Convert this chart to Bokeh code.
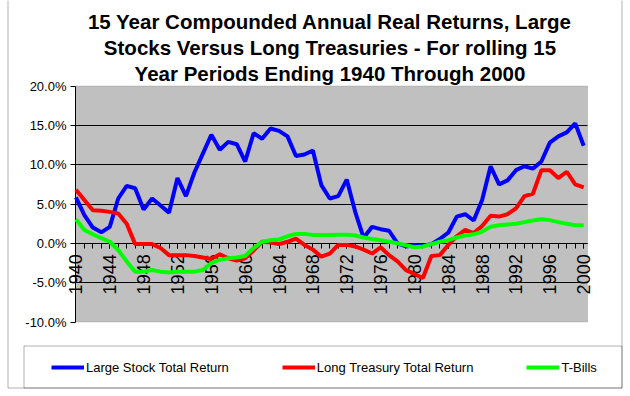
import math
from bokeh.plotting import figure
from bokeh.models import (Range1d, FixedTicker, Legend, LegendItem, BoxAnnotation,
                          PrintfTickFormatter, ColumnDataSource, Label)
from bokeh.embed import file_html
from bokeh.resources import INLINE

years = list(range(1940, 2001))
large_stock = [5.85, 3.6, 2.0, 1.4, 2.1, 5.7, 7.3, 7.0, 4.3, 5.7, 4.8, 3.9, 8.3,
               6.0, 9.0, 11.4, 13.8, 11.9, 12.9, 12.6, 10.4, 14.0, 13.3, 14.6, 14.3,
               13.6, 11.1, 11.3, 11.8, 7.4, 5.7, 6.0, 8.1, 4.0, 0.7, 2.1, 1.8,
               1.6, 0.0, -0.4, -0.25, -0.3, -0.1, 0.55, 1.35, 3.4, 3.7, 2.9, 5.5,
               9.8, 7.5, 8.0, 9.3, 9.8, 9.5, 10.4, 12.8, 13.6, 14.1, 15.25, 12.4]
long_treasury = [6.8, 5.5, 4.2, 4.15, 4.0, 3.8, 2.5, -0.1, -0.1, -0.1, -0.6, -1.5, -1.5,
                 -1.5, -1.6, -1.8, -2.0, -1.4, -1.9, -2.2, -1.9, -0.9, 0.2, 0.1, -0.1,
                 0.2, 0.6, -0.2, -0.8, -1.7, -1.3, -0.2, -0.2, -0.4, -0.8, -1.3, -0.5,
                 -1.5, -2.3, -3.4, -3.9, -4.4, -1.6, -1.5, -0.2, 0.9, 1.7, 1.3, 2.2,
                 3.5, 3.4, 3.7, 4.45, 6.0, 6.3, 9.3, 9.3, 8.3, 9.1, 7.5, 7.1]
t_bills = [3.05, 1.7, 1.15, 0.65, 0.2, -0.85, -2.3, -3.6, -3.6, -3.4, -3.6, -3.7, -3.6,
           -3.6, -3.6, -3.4, -2.5, -2.1, -1.9, -1.8, -1.6, -0.6, 0.2, 0.4, 0.5,
           0.9, 1.2, 1.2, 1.05, 1.05, 1.05, 1.1, 1.1, 1.0, 0.75, 0.55, 0.4,
           0.2, 0.0, -0.25, -0.5, -0.4, -0.1, 0.2, 0.4, 0.75, 1.0, 1.15, 1.5,
           2.1, 2.3, 2.4, 2.5, 2.7, 2.9, 3.05, 2.95, 2.7, 2.5, 2.3, 2.3]
series_names = ["Large Stock Total Return", "Long Treasury Total Return", "T-Bills"]
y_ticks = [-10, -5, 0, 5, 10, 15, 20]
grid_ticks = [-5, 0, 5, 10, 15]
x_label_years = list(range(1940, 2001, 4))
title_lines = ["15 Year Compounded Annual Real Returns, Large",
               "Stocks Versus Long Treasuries - For rolling 15",
               "Year Periods Ending 1940 Through 2000"]

# ---- layout (pixels of the 630x396 canvas) ----
W, H = 630, 396
XMIN, XMAX = 1939.95, 2000.45     # x extent of the plot area
YMIN, YMAX = -10, 20
PA_LEFT, PA_RIGHT, PA_TOP, PA_BOTTOM = 75, 587, 85.5, 321.5
XS = (PA_RIGHT - PA_LEFT) / (XMAX - XMIN)
YS = (PA_BOTTOM - PA_TOP) / (YMAX - YMIN)
X0 = XMIN - PA_LEFT / XS
Y0 = YMAX + PA_TOP / YS


def px_x(px):
    return X0 + px / XS


def px_y(py):
    return Y0 - py / YS


src = ColumnDataSource(dict(year=years, stock=large_stock, treas=long_treasury, bills=t_bills))

FONT = "Liberation Sans"
p = figure(width=W, height=H, output_backend="svg", toolbar_location=None, title=None,
           x_range=Range1d(X0, px_x(W)), y_range=Range1d(px_y(H), Y0),
           min_border=0, min_border_left=0, min_border_right=0,
           min_border_top=0, min_border_bottom=0,
           background_fill_color="white", border_fill_color="white",
           outline_line_color=None)

# plot area
p.add_layout(BoxAnnotation(left=XMIN, right=XMAX, bottom=YMIN, top=YMAX,
                           fill_color="#C0C0C0", fill_alpha=1,
                           line_color="#808080", line_width=1, level="image"))

# y axis
p.yaxis.fixed_location = XMIN
p.yaxis.bounds = (YMIN, YMAX)
p.yaxis.ticker = FixedTicker(ticks=y_ticks, minor_ticks=[])
p.yaxis.formatter = PrintfTickFormatter(format="%.1f%%")
p.yaxis.major_label_text_font = FONT
p.yaxis.major_label_text_font_size = "13px"
p.yaxis.major_label_text_color = "black"
p.yaxis.major_tick_out = 5
p.yaxis.major_tick_in = 0
p.yaxis.major_tick_line_color = "black"
p.yaxis.major_label_standoff = 4
p.yaxis.axis_line_color = "black"

# x axis at zero
p.xaxis.fixed_location = 0
p.xaxis.bounds = (XMIN, XMAX)
p.xaxis.ticker = FixedTicker(ticks=x_label_years, minor_ticks=years)
p.xaxis.major_label_orientation = math.pi / 2
p.xaxis.major_label_text_font = FONT
p.xaxis.major_label_text_font_size = "18px"
p.xaxis.major_label_text_color = "black"
p.xaxis.major_tick_out = 5
p.xaxis.major_tick_in = 0
p.xaxis.major_tick_line_color = "black"
p.xaxis.minor_tick_out = 5
p.xaxis.minor_tick_in = 0
p.xaxis.minor_tick_line_color = "black"
p.xaxis.major_label_standoff = 6
p.xaxis.axis_line_color = "black"

p.xgrid.visible = False
grid = p.ygrid[0]
if "cross_bounds" in grid.properties():
    grid.ticker = FixedTicker(ticks=grid_ticks)
    grid.cross_bounds = (XMIN, XMAX)
    grid.grid_line_color = "black"
    grid.grid_line_width = 1
else:
    grid.visible = False
    for gy in grid_ticks:
        p.add_layout(BoxAnnotation(left=XMIN, right=XMAX, bottom=gy, top=gy,
                                   fill_alpha=0, line_color="black", line_width=1,
                                   level="underlay"))

r1 = p.line("year", "stock", source=src, line_color="#0000FF", line_width=4, level="annotation")
r2 = p.line("year", "treas", source=src, line_color="#FF0000", line_width=4, level="annotation")
r3 = p.line("year", "bills", source=src, line_color="#00FF00", line_width=4, level="annotation")

# title
for i, line in enumerate(title_lines):
    p.add_layout(Label(x=px_x(329.5), y=px_y(21 + 26 * i), text=line,
                       text_align="center", text_baseline="middle",
                       text_font=FONT, text_font_size="20.5px", text_font_style="bold",
                       text_color="black"))

# outer chart border and legend box
p.add_layout(BoxAnnotation(left=px_x(7.5), right=px_x(621.5), bottom=px_y(387.5), top=px_y(-10),
                           fill_alpha=0, line_color="black", line_width=1))
p.add_layout(BoxAnnotation(left=px_x(23.5), right=px_x(621.5), bottom=px_y(387.5), top=px_y(345.5),
                           fill_alpha=0, line_color="black", line_width=1))

legend = Legend(items=[LegendItem(label=series_names[0], renderers=[r1]),
                       LegendItem(label=series_names[1], renderers=[r2]),
                       LegendItem(label=series_names[2], renderers=[r3])],
                orientation="horizontal", location=(51, H - 375), spacing=53,
                padding=0, margin=0, glyph_width=33, glyph_height=16,
                label_standoff=2, label_text_font=FONT, label_text_font_size="13px",
                label_text_color="black",
                border_line_alpha=0, background_fill_alpha=0)
p.add_layout(legend, "center")

open("out.html", "w").write(file_html(p, INLINE))
